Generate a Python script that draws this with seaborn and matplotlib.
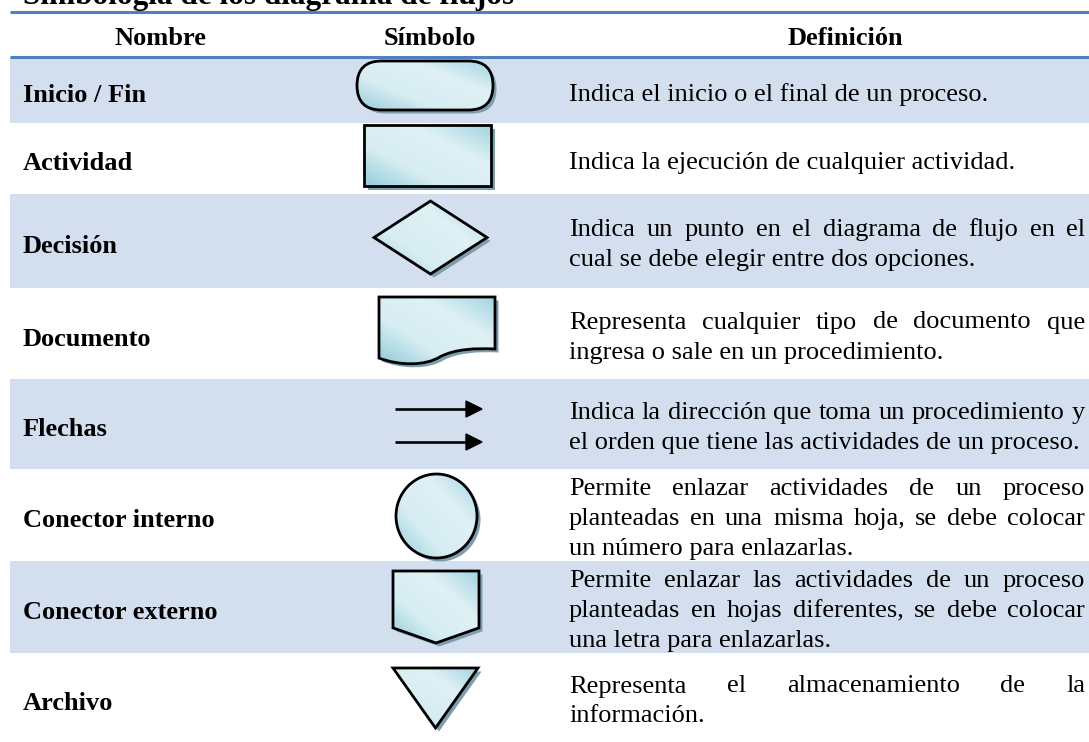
"""Tabla de simbología de diagramas de flujo, redibujada con matplotlib + seaborn."""

import matplotlib

matplotlib.use("Agg")

import matplotlib.patches as mpatches
import matplotlib.pyplot as plt
import numpy as np
import seaborn as sns
from matplotlib.colors import LinearSegmentedColormap
from matplotlib.path import Path

TITLE = "Simbología de los diagrama de flujos"
HEADERS = ["Nombre", "Símbolo", "Definición"]
NAMES = [
    "Inicio / Fin",
    "Actividad",
    "Decisión",
    "Documento",
    "Flechas",
    "Conector interno",
    "Conector externo",
    "Archivo",
]
SYMBOLS = [
    "terminal",
    "process",
    "decision",
    "document",
    "arrows",
    "connector",
    "offpage",
    "storage",
]
DEFINITIONS = [
    ["Indica el inicio o el final de un proceso."],
    ["Indica la ejecución de cualquier actividad."],
    ["Indica un punto en el diagrama de flujo en el",
     "cual se debe elegir entre dos opciones."],
    ["Representa cualquier tipo de documento que",
     "ingresa o sale en un procedimiento."],
    ["Indica la dirección que toma un procedimiento y",
     "el orden que tiene las actividades de un proceso."],
    ["Permite enlazar actividades de un proceso",
     "planteadas en una misma hoja, se debe colocar",
     "un número para enlazarlas."],
    ["Permite enlazar las actividades de un proceso",
     "planteadas en hojas diferentes, se debe colocar",
     "una letra para enlazarlas."],
    ["Representa el almacenamiento de la",
     "información."],
]

# layout (pixel units, y grows downward)
W, H = 1089, 742
TABLE_LEFT = 10
TOP_RULE, HEAD_RULE = 11.5, 56.5
ROW_EDGES = [58, 123, 194, 288, 379, 469, 561, 653, 742]
NAME_X = 23
HEADER_X = [160, 430, 845]
DEF_LEFT, DEF_RIGHT = 569, 1085
LINE_GAP = 30
FONT_SIZE = 19
TITLE_SIZE = 22.5
SYMBOL_BOXES = {
    "terminal": (357, 61, 493, 110),
    "process": (364, 125, 491, 186),
    "decision": (374, 201, 487, 274),
    "document": (379, 297, 495, 362),
    "arrows": (395, 409, 482, 442),
    "connector": (396, 474, 477, 558),
    "offpage": (393, 571, 479, 643),
    "storage": (393, 668, 478, 728),
}

BAND = "#D3DFEE"
RULE = "#4F81BD"
SHADOW = "#7E9DAD"
FILL = LinearSegmentedColormap.from_list(
    "fill", ["#8FC9D8", "#D6EDF2", "#DFF1F5", "#9ED2DF"])


def make_patch(kind, box, **kw):
    x0, y0, x1, y1 = box
    w, h = x1 - x0, y1 - y0
    cx, cy = (x0 + x1) / 2, (y0 + y1) / 2
    if kind == "terminal":
        return mpatches.FancyBboxPatch(
            (x0, y0), w, h, boxstyle=f"round,pad=0,rounding_size={h / 2}", **kw)
    if kind == "process":
        return mpatches.Rectangle((x0, y0), w, h, **kw)
    if kind == "decision":
        return mpatches.Polygon([(x0, cy), (cx, y0), (x1, cy), (cx, y1)], **kw)
    if kind == "connector":
        return mpatches.Ellipse((cx, cy), w, h, **kw)
    if kind == "offpage":
        return mpatches.Polygon(
            [(x0, y0), (x1, y0), (x1, y0 + 0.79 * h), (cx, y1), (x0, y0 + 0.79 * h)], **kw)
    if kind == "storage":
        return mpatches.Polygon([(x0, y0), (x1, y0), (cx, y1)], **kw)
    # document: flat top, wavy bottom
    rel = [(0, 0), (1, 0), (1, 0.8),
           (0.83, 0.785), (0.655, 0.8), (0.526, 0.92),
           (0.4, 1.06), (0.18, 1.06), (0, 0.94),
           (0, 0)]
    verts = [(x0 + u * w, y0 + v * h) for u, v in rel]
    codes = [Path.MOVETO, Path.LINETO, Path.LINETO,
             Path.CURVE4, Path.CURVE4, Path.CURVE4,
             Path.CURVE4, Path.CURVE4, Path.CURVE4,
             Path.CLOSEPOLY]
    return mpatches.PathPatch(Path(verts, codes), **kw)


def draw_symbol(ax, kind, box):
    x0, y0, x1, y1 = box
    if kind == "arrows":
        for y in (y0, y1):
            ax.plot([x0, x1 - 14], [y, y], color="black", lw=1.9,
                    solid_capstyle="butt", zorder=3)
            ax.add_patch(mpatches.Polygon(
                [(x1 - 16, y - 8), (x1, y), (x1 - 16, y + 8)],
                closed=True, color="black", zorder=3))
        return
    off = 3.5
    ax.add_patch(make_patch(kind, (x0 + off, y0 + off, x1 + off, y1 + off),
                            facecolor=SHADOW, edgecolor="none", zorder=2))
    clip = make_patch(kind, box, facecolor="none", edgecolor="none", zorder=3)
    ax.add_patch(clip)
    xs, ys = np.meshgrid(np.linspace(0, 1, 160), np.linspace(0, 1, 160))
    grad = (xs + (1 - ys)) / 2
    im = ax.imshow(grad, extent=(x0, x1, y1 + 3, y0 - 3), origin="upper",
                   cmap=FILL, vmin=0, vmax=1, aspect="auto",
                   interpolation="bilinear", zorder=3)
    im.set_clip_path(clip)
    ax.add_patch(make_patch(kind, box, facecolor="none", edgecolor="black",
                            lw=2.0, joinstyle="miter", zorder=4))


def justified_line(ax, renderer, text, y, justify):
    style = dict(fontsize=FONT_SIZE, va="baseline", ha="left", color="black", zorder=5)
    if not justify:
        ax.text(DEF_LEFT, y, text, **style)
        return
    words = text.split()
    artists = [ax.text(DEF_LEFT, y, w, **style) for w in words]
    widths = [a.get_window_extent(renderer=renderer).width for a in artists]
    gap = (DEF_RIGHT - DEF_LEFT - sum(widths)) / (len(words) - 1)
    x = DEF_LEFT
    for a, wd in zip(artists, widths):
        a.set_x(x)
        x += wd + gap


def main() -> None:
    sns.set_theme(style="white")
    plt.rcParams["font.family"] = ["Liberation Serif", "DejaVu Serif"]
    plt.rcParams["text.color"] = "black"

    fig = plt.figure(figsize=(W / 100, H / 100), dpi=100)
    ax = fig.add_axes([0, 0, 1, 1])
    ax.set_axis_off()
    renderer = fig.canvas.get_renderer()

    # title (partly cut at the top edge, as in the source)
    ax.text(NAME_X, 4, TITLE, fontsize=TITLE_SIZE, fontweight="bold",
            va="baseline", ha="left")

    # header
    for rule_y in (TOP_RULE, HEAD_RULE):
        ax.plot([TABLE_LEFT, W], [rule_y, rule_y], color=RULE, lw=2.2,
                solid_capstyle="butt", zorder=6)
    for hx, label in zip(HEADER_X, HEADERS):
        ax.text(hx, 45, label, fontsize=FONT_SIZE, fontweight="bold",
                ha="center", va="baseline")

    # body rows
    for i, (name, kind, lines) in enumerate(zip(NAMES, SYMBOLS, DEFINITIONS)):
        top, bottom = ROW_EDGES[i], ROW_EDGES[i + 1]
        mid = (top + bottom) / 2
        if i % 2 == 0:
            ax.add_patch(mpatches.Rectangle((TABLE_LEFT, top), W - TABLE_LEFT,
                                            bottom - top, color=BAND, lw=0, zorder=0))
        ax.text(NAME_X, mid + 12, name, fontsize=FONT_SIZE, fontweight="bold",
                ha="left", va="baseline", zorder=5)
        draw_symbol(ax, kind, SYMBOL_BOXES[kind])
        n = len(lines)
        for j, line in enumerate(lines):
            y = mid + 10 + (j - (n - 1) / 2) * LINE_GAP
            justified_line(ax, renderer, line, y, justify=(j < n - 1))

    ax.set_xlim(0, W)
    ax.set_ylim(H, 0)
    fig.savefig("out.png", dpi=100)
    plt.close(fig)


if __name__ == "__main__":
    main()
